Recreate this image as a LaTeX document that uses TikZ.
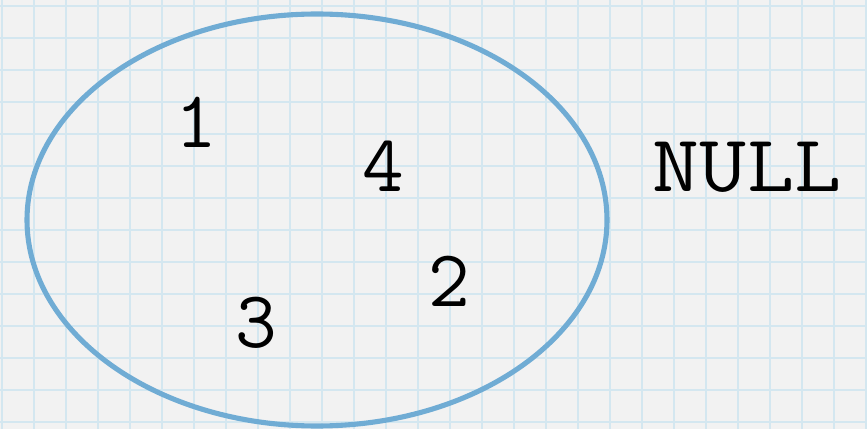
\documentclass[tikz,border=0pt]{standalone}
\usepackage{fontspec}
\usetikzlibrary{positioning}
\definecolor{papel}{RGB}{242,242,242}
\definecolor{quadricula}{RGB}{212,231,240}
\definecolor{conjunto}{RGB}{112,172,212}

\begin{document}
\begin{tikzpicture}[x=0.02cm, y=-0.02cm,
    elemento/.style={font=\ttfamily\fontsize{46}{50}\selectfont, inner sep=0pt}]
    % fundo quadriculado
    \fill[papel] (0,0) rectangle (867,429);
    \useasboundingbox (0,0) rectangle (867,429);
    \foreach \x in {2,34,...,866} {
        \draw[quadricula, line width=1.3pt] (\x,0) -- (\x,429);
    }
    \foreach \y in {6,38,...,428} {
        \draw[quadricula, line width=1.3pt] (0,\y) -- (867,\y);
    }
    % conjunto
    \draw[conjunto, line width=2.9pt] (317,220) ellipse [x radius=290, y radius=206];
    \node[elemento] (um) at (196,122) {1};
    \node[elemento] (quatro) at (383,166) {4};
    \node[elemento] (dois) at (449,281) {2};
    \node[elemento] (tres) at (256,323) {3};
    \node[elemento] (nulo) at (747,167) {\scalebox{1.13}[1]{NULL}};
\end{tikzpicture}
\end{document}
